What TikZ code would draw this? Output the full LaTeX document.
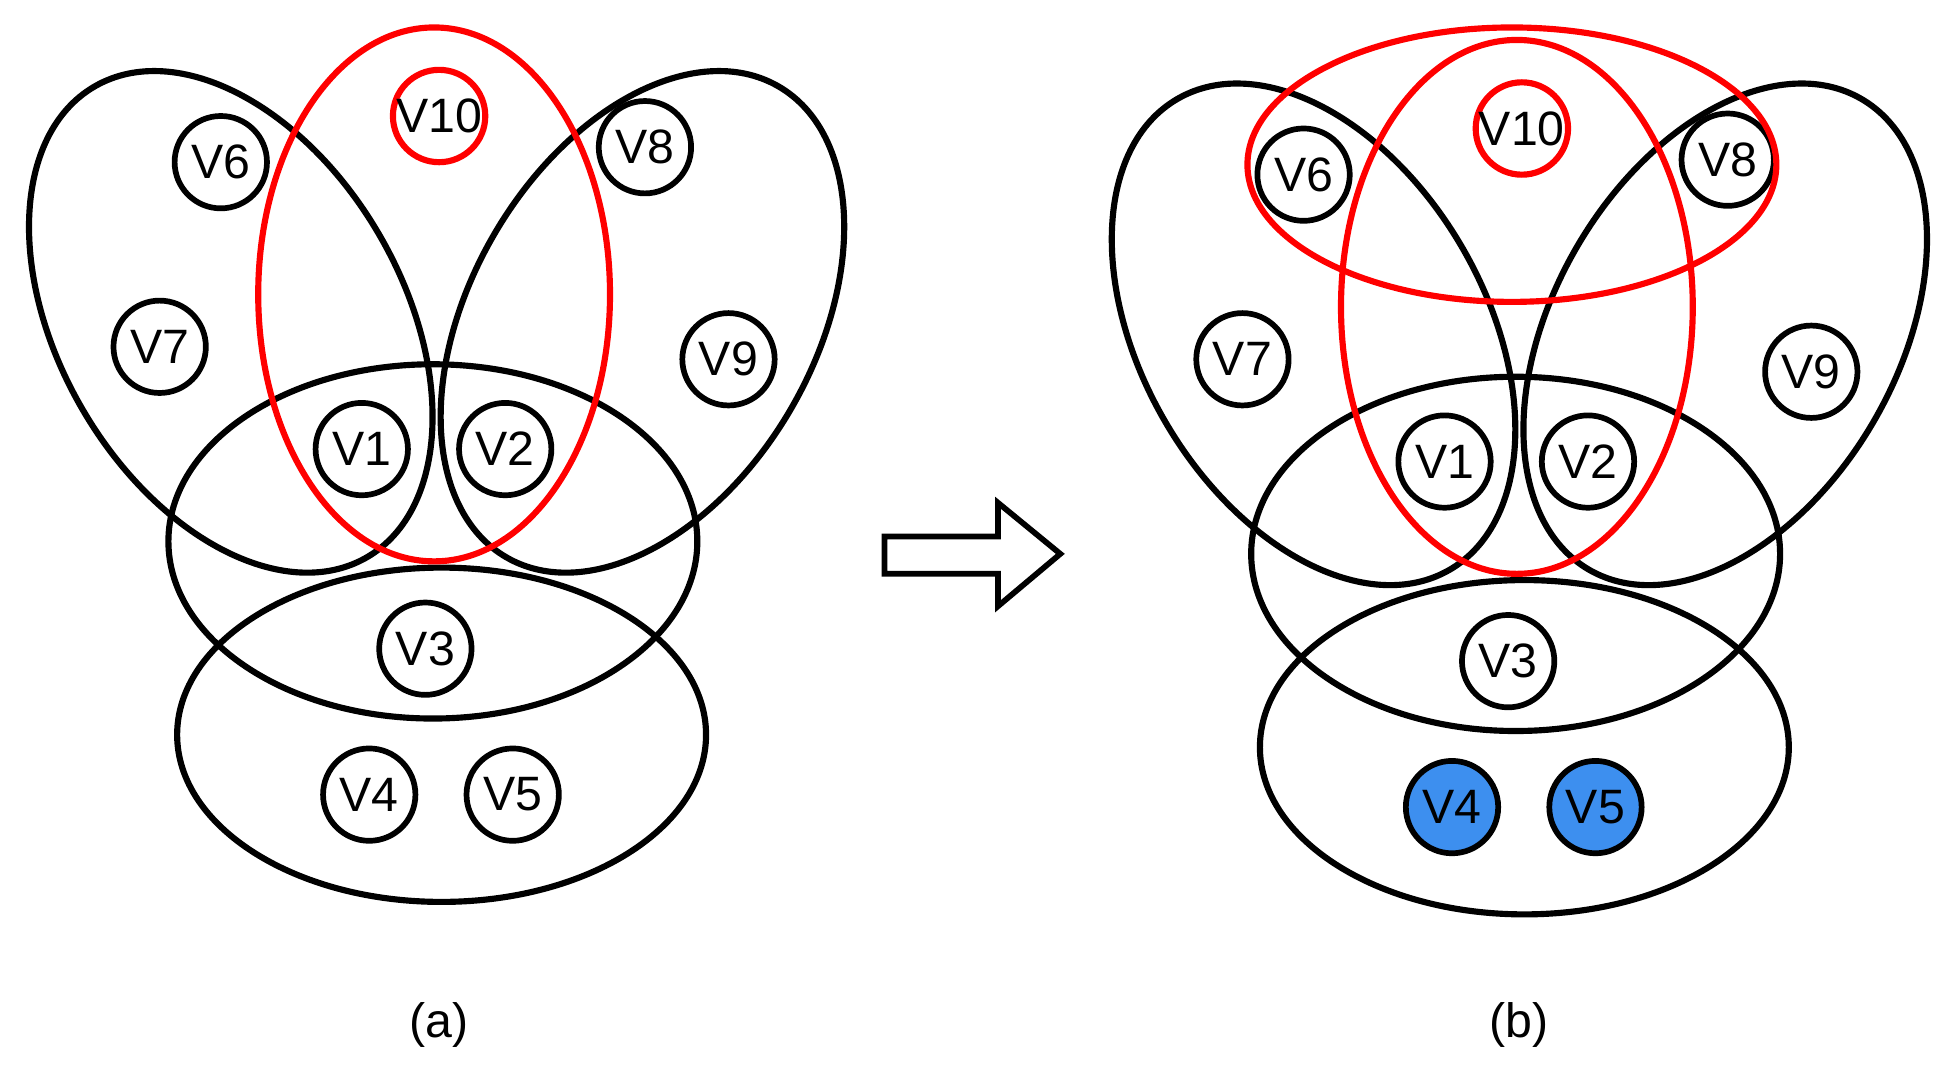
\documentclass[tikz,border=0pt]{standalone}
\usepackage{fontspec}
\setmainfont{Liberation Sans}
\definecolor{vblue}{HTML}{3D8FEF}
\begin{document}
\begin{tikzpicture}[x=0.01cm,y=-0.01cm,
  vx/.style={circle,draw,line width=1.3pt,minimum size=0.74cm,inner sep=0pt,font=\fontsize{11}{12}\selectfont},
  ring/.style={draw,line width=1.4pt},
  redring/.style={draw=red,line width=1.4pt}]
\useasboundingbox (0,0) rectangle (1560,857);
\foreach \dx/\dy/\s in {0/0/a,868/10/b}{
\begin{scope}[shift={(\dx,\dy)}]
 \draw[ring,rotate around={-60:(185,258)}] (185,258) ellipse [x radius=218,y radius=138];
 \draw[ring,rotate around={60:(515,258)}] (515,258) ellipse [x radius=218,y radius=138];
 \draw[ring] (347,434) ellipse [x radius=212,y radius=142];
 \draw[ring] (354,589) ellipse [x radius=212,y radius=134];
 \draw[redring] (348,236) ellipse [x radius=141,y radius=214];
 \node[vx,draw=red,line width=1.4pt] (V10\s) at (352,93) {V10};
 \node[vx] (V6\s) at (177,130) {V6};
 \node[vx] (V7\s) at (128,278) {V7};
 \node[vx] (V1\s) at (290,360) {V1};
 \node[vx] (V2\s) at (405,360) {V2};
 \node[vx] (V8\s) at (517,118) {V8};
 \node[vx] (V9\s) at (584,288) {V9};
 \node[vx] (V3\s) at (341,520) {V3};
\end{scope}}
\node[vx] (V4a) at (296,637) {V4};
\node[vx] (V5a) at (411,637) {V5};
\node[vx,fill=vblue] (V4b) at (1164,647) {V4};
\node[vx,fill=vblue] (V5b) at (1279,647) {V5};
\draw[redring] (1212,132) ellipse [x radius=212,y radius=110];
\draw[line width=1.3pt,line join=miter] (709,430) -- (800,430) -- (800,403) -- (850,444) -- (800,486) -- (800,460) -- (709,460) -- cycle;
\node[font=\fontsize{11}{12}\selectfont] (la) at (352,822) {(a)};
\node[font=\fontsize{11}{12}\selectfont] (lb) at (1218,822) {(b)};
\end{tikzpicture}
\end{document}
